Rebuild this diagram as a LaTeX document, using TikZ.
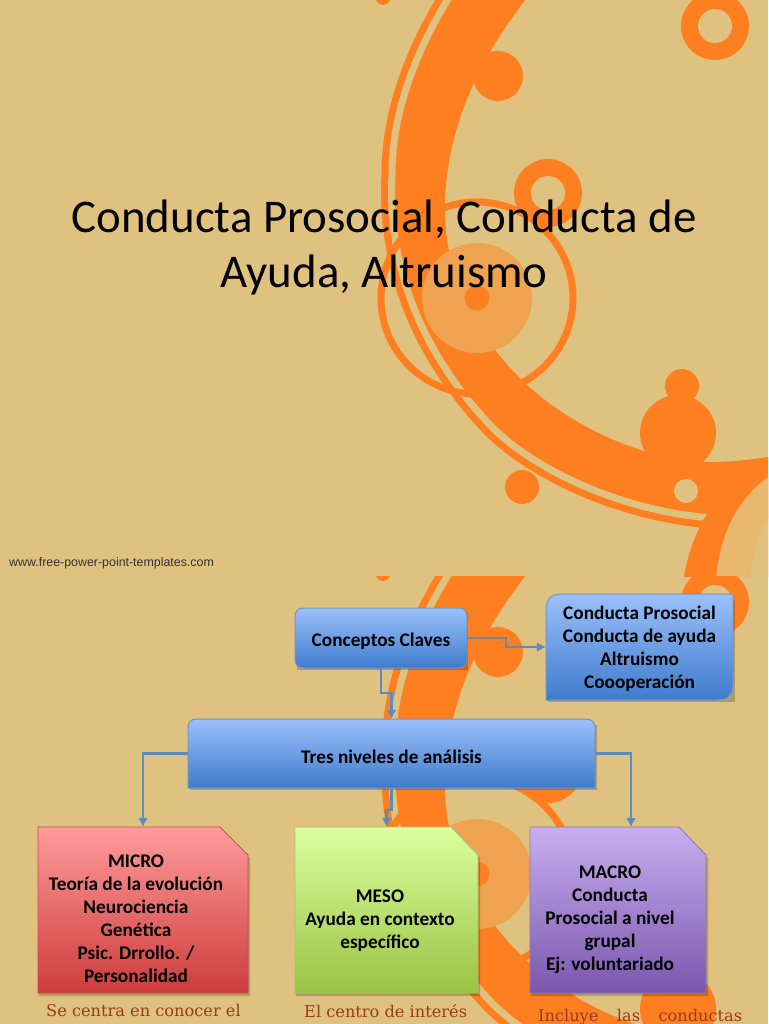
\documentclass[tikz,border=0pt]{standalone}
\usepackage{fontspec}
\setmainfont{Carlito}
\newfontfamily\slabfont{DejaVu Serif}
\newfontfamily\webfont{Liberation Sans}
\usetikzlibrary{arrows.meta,calc}
\definecolor{bgc}{HTML}{E0C280}
\definecolor{org}{HTML}{FE7F20}
\definecolor{lightorg}{HTML}{EFA250}
\definecolor{paleorg}{HTML}{E8B871}
\definecolor{bluetop}{HTML}{9BC0FB}
\definecolor{bluebot}{HTML}{3F7BCC}
\definecolor{blueline}{HTML}{6D96C6}
\definecolor{conn}{HTML}{5E8BBB}
\definecolor{slabtext}{HTML}{9A3A1C}
\definecolor{redtop}{HTML}{FF9B9B}
\definecolor{redbot}{HTML}{CD3C3C}
\definecolor{redline}{HTML}{C05050}
\definecolor{greentop}{HTML}{DBFF9F}
\definecolor{greenbot}{HTML}{9AC243}
\definecolor{greenline}{HTML}{A9C46A}
\definecolor{purpletop}{HTML}{C6AFEF}
\definecolor{purplebot}{HTML}{7B56AD}
\definecolor{purpleline}{HTML}{8B74B4}
\newcommand{\strippath}{(451,-6) .. controls (410,60) and (392,120) .. (392,175) .. controls (388,250) and (410,340) .. (490,425) .. controls (525,462) and (610,510) .. (712,518)}
\newcommand{\swirl}{%
  % outer thin stroke
  \draw[org,line width=21pt] \strippath;
  % main band
  \fill[org] \strippath -- (800,518) -- (800,456) -- (775,456)
     .. controls (750,460) and (730,462) .. (710,462)
     .. controls (640,460) and (570,425) .. (525,383)
     .. controls (470,330) and (443,270) .. (445,200)
     .. controls (448,120) and (485,50) .. (530,-6) -- cycle;
  % gap between band and stroke
  \draw[bgc,line width=7pt] \strippath;
  % loop
  \draw[org,line width=7pt] (477,298) circle[radius=96];
  % tail, bottom right
  \fill[org] (683,580) .. controls (688,555) and (693,540) .. (703,520) -- (722,495) -- (800,470) -- (800,580) -- cycle;
  \fill[paleorg] (716,580) .. controls (720,530) and (740,495) .. (775,472) -- (775,512) .. controls (760,525) and (752,550) .. (750,580) -- cycle;
  \fill[bgc] (750,580) .. controls (752,550) and (760,525) .. (775,510) -- (775,580) -- cycle;
  % dots and rings
  \fill[org] (498,76) circle[radius=25];
  \fill[org] (383,-2) circle[radius=7];
  \fill[org] (715,26) circle[radius=34];
  \fill[bgc] (715,26) circle[radius=17];
  \fill[org] (548,193) circle[radius=34];
  \fill[bgc] (548,193) circle[radius=17];
  \fill[lightorg] (477,298) circle[radius=55];
  \fill[org] (477,298) circle[radius=12.5];
  \fill[org] (678,433) circle[radius=38];
  \fill[org] (682,386) circle[radius=17];
  \fill[org] (522,487) circle[radius=17];
  \fill[bgc] (686,491) circle[radius=12];
}
\tikzset{
  connector/.style={conn,line width=2.3pt,-{Latex[length=9pt,width=10pt]}},
  shadowfill/.style={black,opacity=.2},
  boxtext/.style={font=\fontsize{19.3}{23}\selectfont\bfseries,align=center,text=black},
  bluebox/.style={top color=bluetop,bottom color=bluebot,draw=blueline,line width=1pt},
  slab/.style={font=\fontsize{16.2}{18}\slabfont,text=slabtext,inner sep=0pt,anchor=base west},
}
% x1,x2,snipx,y1,snipy,topcol,botcol,y2,linecol
\newcommand{\snipped}[9]{%
  \fill[shadowfill] (#1+1,#4+3) -- (#3+1,#4+3) -- (#2+2,#5+3) -- (#2+2,#8+3) -- (#1+1,#8+3) -- cycle;
  \path[top color=#6,bottom color=#7,draw=#9,line width=.8pt] (#1,#4) -- (#3,#4) -- (#2,#5) -- (#2,#8) -- (#1,#8) -- cycle;
}
\begin{document}
\begin{tikzpicture}[x=1pt,y=-1pt]
\useasboundingbox (0,0) rectangle (768,1024);
\fill[bgc] (0,0) rectangle (768,1024);
\begin{scope}
  \clip (0,0) rectangle (768,576);
  \swirl
\end{scope}
\begin{scope}[shift={(0,576)}]
  \clip (0,0) rectangle (768,448);
  \swirl
\end{scope}

% title slide
\node[font=\fontsize{46.9}{55}\selectfont,align=center,inner sep=0pt] (title) at (384,247) {Conducta Prosocial, Conducta de\\Ayuda, Altruismo};
\node[font=\fontsize{12.4}{14}\webfont,text=black!80,inner sep=0pt,anchor=base west] (web) at (9,566) {www.free-power-point-templates.com};

% blue boxes
\fill[shadowfill] (297,612) rectangle (468,670);
\path[bluebox] (304,608) -- (458,608) .. controls (464,608) and (467,611) .. (467,617) -- (467,659) .. controls (467,665) and (464,668) .. (458,668) -- (304,668) .. controls (298,668) and (295,665) .. (295,659) -- (295,617) .. controls (295,611) and (298,608) .. (304,608) -- cycle;
\node[boxtext] (conceptos) at (381,638) [minimum width=172pt,minimum height=60pt,inner sep=0pt] {\raisebox{-8pt}[0pt][0pt]{Conceptos Claves}};

\fill[shadowfill] (548,600) rectangle (734.5,702);
\path[bluebox] (562,594) -- (733,594) -- (733,684) .. controls (733,695) and (728,700) .. (717,700) -- (546,700) -- (546,610) .. controls (546,599) and (551,594) .. (562,594) -- cycle;
\node[boxtext] (lista) at (639.5,649) [minimum width=187pt,minimum height=106pt,inner sep=0pt] {Conducta Prosocial\\Conducta de ayuda\\Altruismo\\Coooperación};

\fill[shadowfill] (190,725) rectangle (596.5,790);
\path[bluebox] (197,719) -- (586,719) .. controls (592,719) and (595,722) .. (595,728) -- (595,788) -- (188,788) -- (188,728) .. controls (188,722) and (191,719) .. (197,719) -- cycle;
\node[boxtext] (tres) at (391.5,753.5) [minimum width=407pt,minimum height=69pt,inner sep=0pt] {\raisebox{-9.5pt}[0pt][0pt]{Tres niveles de análisis}};

% note shapes
\snipped{38}{248}{220}{827}{855}{redtop}{redbot}{993}{redline}
\snipped{295}{478}{451}{827}{855}{greentop}{greenbot}{993}{greenline}
\snipped{530}{706}{679}{827}{855}{purpletop}{purplebot}{993}{purpleline}

\node[minimum width=210pt,minimum height=166pt,inner sep=0pt] (micro) at (143,910) {};
\node[minimum width=183pt,minimum height=166pt,inner sep=0pt] (meso) at (386.5,910) {};
\node[minimum width=176pt,minimum height=166pt,inner sep=0pt] (macro) at (618,910) {};
\coordinate (macroin) at (631,827);

\node[boxtext,inner sep=0pt] (microtext) at (136,919) {MICRO\\Teoría de la evolución\\Neurociencia\\Genética\\Psic. Drrollo. /\\Personalidad};
\node[boxtext,inner sep=0pt] (mesotext) at (380,920.5) {MESO\\Ayuda en contexto\\específico};
\node[boxtext,inner sep=0pt] (macrotext) at (610,920) {MACRO\\Conducta\\Prosocial a nivel\\grupal\\Ej: voluntariado};

% connectors
\draw[connector] (conceptos.east) -- ++(39,0) |- ($(lista.west)+(0,-2)$);
\draw[connector] (conceptos.south) -- ++(0,25) -| (tres.north);
\draw[connector] (tres.west) -| (micro.north);
\draw[connector] (tres.east) -| (macroin);
\draw[connector] (tres.south) -- ++(0,22) -| (meso.north);

% clipped captions
\node[slab] (capa) at (46,1016) {Se centra en conocer el};
\node[slab] (capb) at (304,1017) {El centro de interés};
\node[slab] (capc) at (538,1021) {\hbox to 204pt{Incluye\hfill las\hfill conductas}};
\end{tikzpicture}
\end{document}
